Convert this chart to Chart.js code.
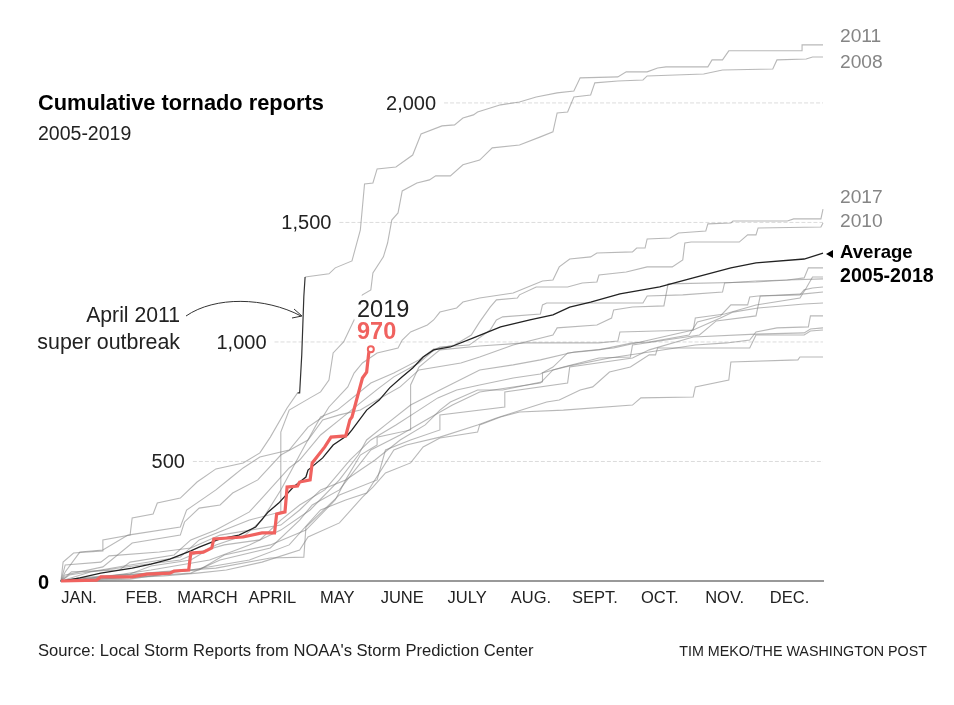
<!DOCTYPE html>
<html>
<head>
<meta charset="utf-8">
<title>Cumulative tornado reports</title>
<script src="https://cdn.jsdelivr.net/npm/chart.js@4"></script>
<style>
body { margin: 0; background: #fff; }
canvas { display: block; }
</style>
</head>
<body>
<canvas id="tornadoChart" width="954" height="705"></canvas>
<script>
// [day of year, cumulative reports]
var reports2005 = [[1,0],[6,38],[29,46],[34,79],[55,109],[63,172],[75,213],[91,289],[97,347],[110,473],[115,506],[125,611],[134,674],[144,745],[153,808],[160,854],[172,912],[178,958],[182,979],[196,987],[206,1050],[209,1092],[212,1105],[230,1117],[231,1155],[233,1163],[279,1163],[281,1192],[298,1197],[317,1209],[318,1247],[333,1255],[348,1259],[356,1268],[358,1310],[365,1310]];
var reports2006 = [[1,0],[29,25],[67,46],[79,109],[101,151],[118,213],[132,339],[137,423],[144,527],[152,569],[152,602],[168,632],[168,820],[172,895],[182,967],[201,983],[223,996],[258,996],[267,1004],[268,1042],[303,1050],[304,1100],[318,1117],[333,1155],[354,1184],[357,1226],[360,1272],[365,1272]];
var reports2007 = [[1,0],[3,25],[21,59],[35,159],[58,192],[60,247],[67,305],[77,318],[83,368],[95,423],[106,527],[119,590],[126,674],[134,695],[144,715],[152,757],[163,812],[172,883],[192,912],[201,937],[217,987],[236,1029],[238,1059],[257,1071],[264,1100],[265,1134],[274,1146],[289,1151],[291,1243],[333,1251],[348,1259],[365,1264]];
var reports2008 = [[1,0],[5,25],[20,46],[34,67],[58,100],[67,172],[79,213],[91,255],[106,289],[106,623],[110,715],[120,766],[125,791],[129,841],[131,954],[136,1000],[141,1092],[145,1197],[149,1218],[150,1289],[155,1356],[157,1414],[159,1510],[162,1540],[164,1632],[171,1665],[177,1678],[180,1695],[187,1695],[193,1741],[201,1761],[207,1812],[220,1824],[230,1858],[236,1879],[238,1958],[243,1962],[246,2025],[254,2033],[256,2084],[267,2092],[279,2096],[281,2113],[308,2121],[317,2138],[341,2142],[343,2180],[357,2184],[360,2192],[365,2192]];
var reports2009 = [[1,0],[15,38],[39,67],[58,88],[67,121],[79,151],[96,172],[106,255],[115,318],[127,381],[139,506],[149,590],[161,653],[172,715],[181,766],[190,799],[201,820],[217,849],[230,866],[236,895],[243,954],[258,967],[274,996],[282,1000],[301,1029],[305,1084],[316,1109],[321,1155],[329,1155],[330,1188],[334,1192],[354,1197],[356,1218],[360,1226],[365,1230]];
var reports2010 = [[1,0],[10,13],[34,29],[44,63],[63,88],[75,151],[89,192],[97,255],[106,381],[115,527],[125,686],[133,715],[149,828],[160,870],[172,925],[179,971],[189,987],[197,1029],[201,1084],[206,1146],[209,1176],[219,1184],[220,1197],[228,1230],[243,1230],[250,1247],[257,1251],[258,1280],[271,1293],[281,1314],[293,1314],[298,1343],[299,1414],[302,1418],[325,1418],[329,1448],[333,1448],[334,1477],[364,1481],[365,1498]];
var reports2011a = [[1,0],[2,79],[7,117],[21,126],[21,172],[34,192],[35,264],[45,280],[47,326],[58,347],[66,414],[75,469],[88,494],[96,536],[101,602],[109,724],[114,787]];
var outbreak2011 = [[114,787],[115,787],[116,945],[117,1190],[117.6,1272]];
var reports2011b = [[117.6,1272],[129,1285],[132,1310],[140,1339],[144,1469],[146,1661],[150,1665],[152,1724],[161,1732],[169,1782],[173,1870],[183,1904],[189,1908],[193,1937],[198,1950],[200,1962],[211,1992],[220,2004],[228,2025],[238,2042],[246,2050],[249,2105],[267,2109],[271,2130],[281,2130],[286,2146],[290,2151],[310,2151],[312,2180],[317,2180],[320,2218],[355,2218],[355,2243],[365,2243]];
var reports2012 = [[1,0],[3,67],[20,79],[24,105],[48,121],[63,138],[77,192],[106,234],[115,297],[125,381],[137,423],[151,506],[163,590],[175,653],[182,715],[187,749],[200,799],[212,799],[231,833],[231,870],[241,895],[258,933],[273,937],[274,987],[306,1029],[314,1088],[333,1109],[335,1192],[356,1201],[365,1209]];
var reports2013 = [[1,0],[24,21],[44,46],[72,88],[91,151],[106,213],[120,297],[134,423],[143,527],[147,590],[156,653],[168,736],[182,799],[201,883],[217,904],[230,925],[246,958],[265,975],[282,1008],[303,1050],[316,1100],[322,1125],[334,1142],[356,1159],[365,1163]];
var reports2014 = [[1,0],[29,13],[63,33],[77,88],[101,138],[115,255],[121,318],[134,381],[149,548],[163,611],[177,682],[188,736],[201,791],[230,828],[236,883],[244,900],[263,933],[282,958],[304,987],[319,996],[330,1008],[333,1042],[343,1059],[358,1063],[359,1109],[365,1109]];
var reports2015 = [[1,0],[20,13],[48,38],[75,54],[101,96],[117,100],[118,226],[134,360],[152,423],[156,548],[168,590],[182,632],[182,695],[213,728],[213,791],[243,828],[244,895],[274,933],[282,967],[303,1021],[333,1033],[356,1038],[359,1054],[365,1059]];
var reports2016 = [[1,0],[18,8],[50,21],[66,33],[80,46],[97,79],[115,130],[119,184],[134,243],[145,351],[150,393],[156,452],[168,494],[174,561],[182,598],[200,623],[201,653],[211,686],[220,707],[241,715],[274,736],[278,766],[303,770],[304,812],[320,841],[321,916],[353,925],[354,937],[365,937]];
var reports2017 = [[1,0],[3,38],[10,121],[21,130],[33,192],[58,226],[61,297],[70,351],[75,381],[82,431],[88,473],[96,519],[110,548],[119,644],[126,686],[129,728],[138,812],[141,870],[145,912],[152,954],[162,975],[164,1008],[168,1042],[176,1071],[179,1092],[182,1125],[190,1142],[193,1167],[201,1184],[217,1205],[231,1255],[236,1259],[239,1314],[244,1347],[254,1356],[257,1372],[274,1377],[276,1393],[280,1393],[281,1431],[292,1435],[296,1456],[309,1464],[310,1494],[321,1498],[322,1506],[348,1506],[351,1515],[364,1515],[365,1556]];
var reports2018 = [[1,0],[34,8],[63,46],[91,88],[110,151],[125,297],[137,339],[147,368],[160,548],[166,569],[182,602],[200,653],[209,682],[233,749],[239,757],[249,799],[255,812],[263,874],[273,895],[282,946],[285,946],[286,975],[330,975],[333,1029],[356,1029],[359,1046],[365,1050]];
var reportsAverage = [[2,0],[10,13],[20,33],[35,54],[44,71],[53,92],[63,126],[67,142],[77,176],[86,192],[94,226],[100,289],[105,326],[112,393],[118,435],[119,464],[126,515],[131,569],[138,611],[140,632],[147,715],[153,757],[158,808],[164,854],[169,891],[174,937],[179,967],[187,979],[198,1017],[211,1063],[225,1092],[236,1113],[244,1146],[254,1167],[268,1201],[287,1230],[303,1268],[321,1310],[333,1331],[356,1347],[365,1372]];
var reports2019 = [[1,0],[18,4],[20,17],[35,17],[42,29],[53,33],[55,42],[62,46],[63,117],[69,121],[73,138],[74,176],[88,184],[97,201],[103,201],[104,280],[108,289],[109,393],[114,397],[115,414],[120,423],[121,494],[127,561],[130,602],[137,607],[139,674],[140,686],[145,849],[147,874],[148,954],[149,970]];

var greyYears = [reports2005, reports2006, reports2007, reports2008, reports2009, reports2010, reports2011a, reports2011b, reports2012, reports2013, reports2014, reports2015, reports2016, reports2017, reports2018];

var monthLabels = ["JAN.", "FEB.", "MARCH", "APRIL", "MAY", "JUNE", "JULY", "AUG.", "SEPT.", "OCT.", "NOV.", "DEC."];
var monthLabelDays = [9.6, 40.6, 71, 102, 133, 164, 195, 225.5, 256, 287, 318, 349];

var gridValues = [500, 1000, 1500, 2000];
var gridLabels = ["500", "1,000", "1,500", "2,000"];
var gridStartDays = [64, 103, 134, 184];

var fontName = '"Liberation Sans", Arial, sans-serif';

function toPoints(pairs) {
    return pairs.map(function(p) { return {x: p[0], y: p[1]}; });
}

var datasets = [];

// first dataset is painted last, so the red line goes first
datasets.push({
    data: toPoints(reports2019),
    borderColor: "#f0625f",
    borderWidth: 3.2,
    pointRadius: function(ctx) { return ctx.dataIndex == reports2019.length - 1 ? 3 : 0; },
    pointBackgroundColor: "#fff",
    pointBorderColor: "#f0625f",
    pointBorderWidth: 2
});
datasets.push({data: toPoints(reportsAverage), borderColor: "#222", borderWidth: 1.3, pointRadius: 0});
datasets.push({data: toPoints(outbreak2011), borderColor: "#333", borderWidth: 1.2, pointRadius: 0});

for (var i = 0; i < greyYears.length; i++) {
    datasets.push({data: toPoints(greyYears[i]), borderColor: "rgba(125,125,125,0.55)", borderWidth: 1.1, pointRadius: 0});
}

for (var g = 0; g < gridValues.length; g++) {
    datasets.push({
        data: [{x: gridStartDays[g], y: gridValues[g]}, {x: 365, y: gridValues[g]}],
        borderColor: "#dcdcdc",
        borderWidth: 1,
        borderDash: [4, 2],
        pointRadius: 0
    });
}

// Draws all the text on the chart that the axes can not place.
function put(ctx, text, x, y, font, color, align, halo) {
    ctx.font = font;
    ctx.textAlign = align || "left";
    ctx.textBaseline = "middle";
    if (halo) {
        ctx.strokeStyle = "#fff";
        ctx.lineWidth = 9;
        ctx.lineJoin = "round";
        ctx.strokeText(text, x, y + 1.5);
    }
    ctx.fillStyle = color;
    ctx.fillText(text, x, y + 1.5);
}

var labelPlugin = {
    id: "labelPlugin",
    afterDatasetsDraw: function(chart) {
        var ctx = chart.ctx;
        var xs = chart.scales.x;
        var ys = chart.scales.y;
        ctx.save();

        put(ctx, "Cumulative tornado reports", 38, 102, "bold 21.8px " + fontName, "#000");
        put(ctx, "2005-2019", 38, 133, "19.5px " + fontName, "#222");

        for (var i = 0; i < gridValues.length; i++) {
            put(ctx, gridLabels[i], xs.getPixelForValue(gridStartDays[i]) - 8, ys.getPixelForValue(gridValues[i]), "20px " + fontName, "#222", "right");
        }
        put(ctx, "0", 38, ys.getPixelForValue(0) + 1, "bold 20px " + fontName, "#000");

        put(ctx, "2019", 357, 309, "23.5px " + fontName, "#222", "left", true);
        put(ctx, "970", 357, 331, "bold 23.5px " + fontName, "#f0625f", "left", true);

        put(ctx, "April 2011", 180, 315, "21.2px " + fontName, "#222", "right");
        put(ctx, "super outbreak", 180, 342, "21.4px " + fontName, "#222", "right");

        // curved pointer to the outbreak
        ctx.strokeStyle = "#333";
        ctx.lineWidth = 1;
        ctx.beginPath();
        ctx.moveTo(186, 316);
        ctx.bezierCurveTo(215, 296, 265, 297, 301, 316);
        ctx.moveTo(294, 309);
        ctx.lineTo(302, 316);
        ctx.lineTo(292, 318);
        ctx.stroke();

        put(ctx, "2011", 840, 35, "19.2px " + fontName, "#858585");
        put(ctx, "2008", 840, 61, "19.2px " + fontName, "#858585");
        put(ctx, "2017", 840, 196, "19.2px " + fontName, "#858585");
        put(ctx, "2010", 840, 220, "19.2px " + fontName, "#858585");
        put(ctx, "Average", 840, 251, "bold 18.6px " + fontName, "#000");
        put(ctx, "2005-2018", 840, 275, "bold 19.6px " + fontName, "#000");

        // little arrow beside the average
        ctx.fillStyle = "#000";
        ctx.beginPath();
        ctx.moveTo(826, 254);
        ctx.lineTo(833, 250);
        ctx.lineTo(833, 258);
        ctx.closePath();
        ctx.fill();

        put(ctx, "Source: Local Storm Reports from NOAA's Storm Prediction Center", 38, 650, "16.6px " + fontName, "#222");
        put(ctx, "TIM MEKO/THE WASHINGTON POST", 927, 651, "14.3px " + fontName, "#222", "right");

        ctx.restore();
    }
};

new Chart(document.getElementById("tornadoChart"), {
    type: "line",
    data: {datasets: datasets},
    plugins: [labelPlugin],
    options: {
        responsive: false,
        animation: false,
        layout: {padding: {left: 61, right: 131, top: 36, bottom: 94}},
        datasets: {line: {tension: 0, clip: false, fill: false}},
        plugins: {legend: {display: false}, tooltip: {enabled: false}},
        scales: {
            x: {
                type: "linear",
                min: 1,
                max: 365,
                grid: {display: false, drawTicks: false},
                border: {display: true, color: "#999", width: 2},
                afterBuildTicks: function(scale) {
                    scale.ticks = monthLabelDays.map(function(d) { return {value: d}; });
                },
                afterFit: function(scale) { scale.height = 30; },
                ticks: {
                    autoSkip: false,
                    maxRotation: 0,
                    padding: 8,
                    color: "#222",
                    font: {family: fontName, size: 16.5},
                    callback: function(value, index) { return monthLabels[index]; }
                }
            },
            y: {display: false, min: 0, max: 2280}
        }
    }
});
</script>
</body>
</html>
